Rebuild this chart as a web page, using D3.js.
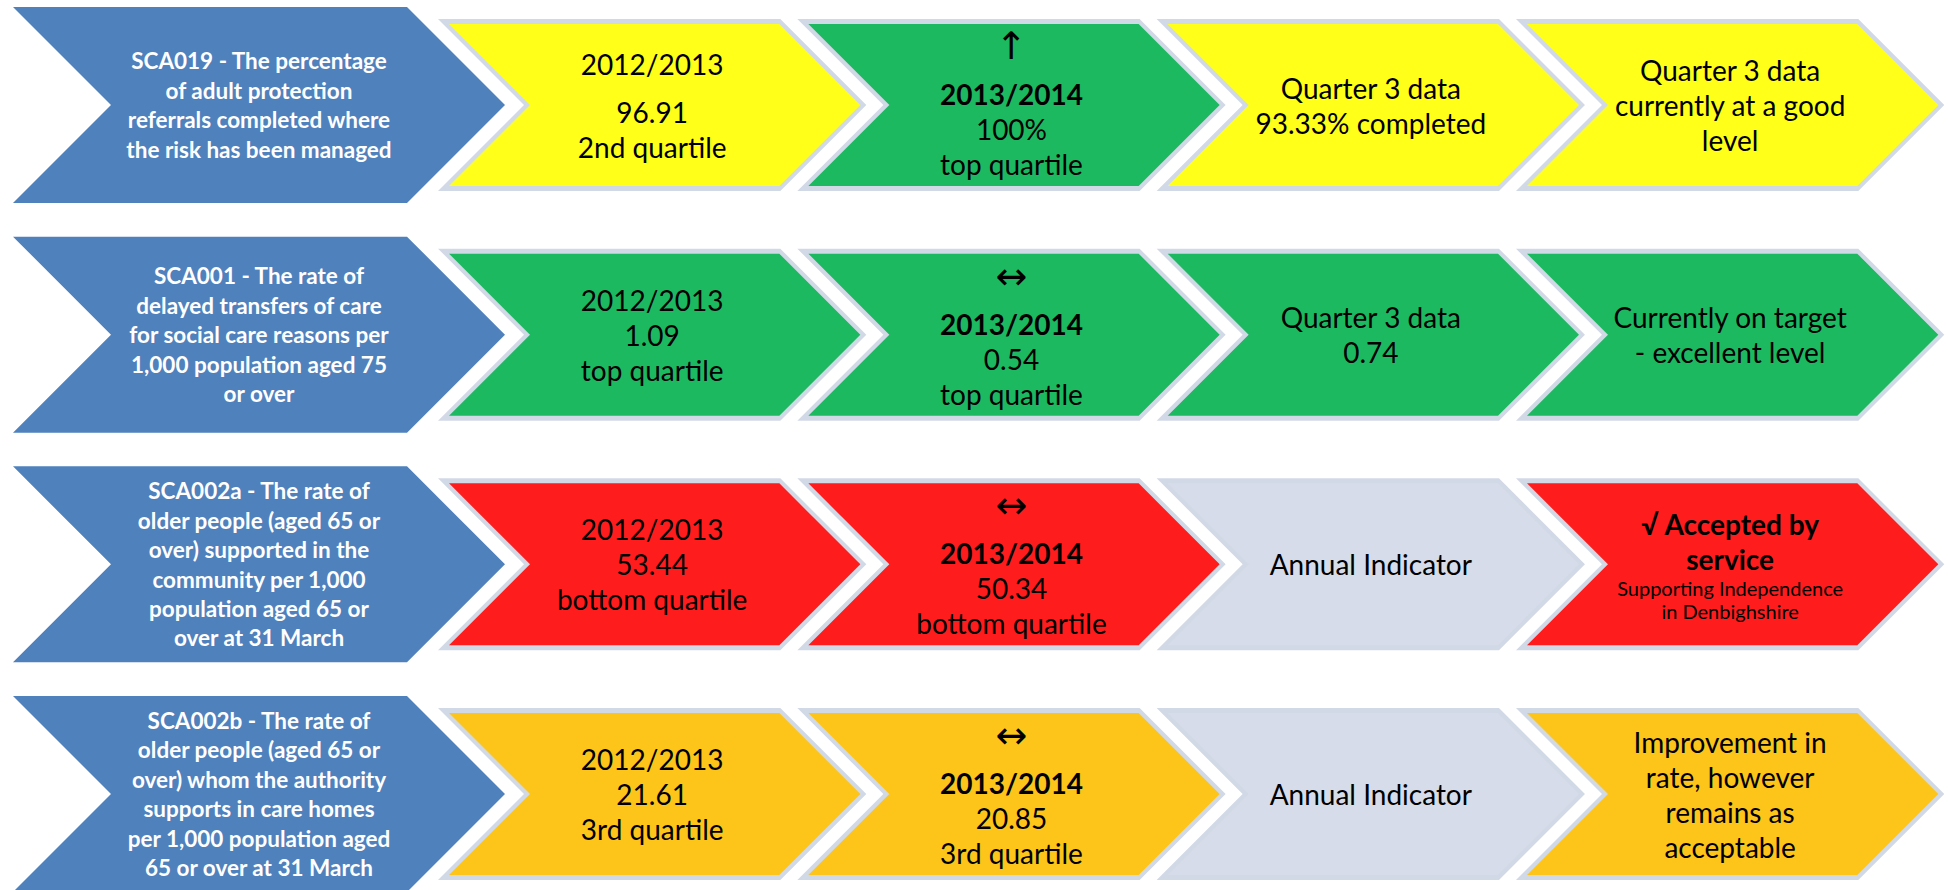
<!DOCTYPE html>
<html>
<head>
<meta charset="utf-8">
<script src="https://cdn.jsdelivr.net/npm/d3@7"></script>
<style>
  body { margin: 0; background: #fff; }
  svg text { font-family: Lato, "Open Sans", sans-serif; }
</style>
</head>
<body>
<div id="vis"></div>
<script>
// indicator rows
var indicators = ["SCA019", "SCA001", "SCA002a", "SCA002b"];

var indicatorLines = [
  ["SCA019 - The percentage", "of adult protection", "referrals completed where", "the risk has been managed"],
  ["SCA001 - The rate of", "delayed transfers of care", "for social care reasons per", "1,000 population aged 75", "or over"],
  ["SCA002a - The rate of", "older people (aged 65 or", "over) supported in the", "community per 1,000", "population aged 65 or", "over at 31 March"],
  ["SCA002b - The rate of", "older people (aged 65 or", "over) whom the authority", "supports in care homes", "per 1,000 population aged", "65 or over at 31 March"]
];

// 2012/2013 column ("" = empty paragraph)
var prevLines = [
  ["2012/2013", "", "96.91", "2nd quartile"],
  ["2012/2013", "1.09", "top quartile"],
  ["2012/2013", "53.44", "bottom quartile"],
  ["2012/2013", "21.61", "3rd quartile"]
];
var prevStatus = ["yellow", "green", "red", "amber"];

// 2013/2014 column
var currYear = "2013/2014";
var currTrend = ["\u2191", "\u2194", "\u2194", "\u2194"];
var currValue = ["100%", "0.54", "50.34", "20.85"];
var currQuartile = ["top quartile", "top quartile", "bottom quartile", "3rd quartile"];
var currStatus = ["green", "green", "red", "amber"];

// quarter 3 column
var q3Lines = [
  ["Quarter 3 data", "93.33% completed"],
  ["Quarter 3 data", "0.74"],
  ["Annual Indicator"],
  ["Annual Indicator"]
];
var q3Status = ["yellow", "green", "none", "none"];

// comment column
var commentLines = [
  ["Quarter 3 data", "currently at a good", "level"],
  ["Currently on target", "- excellent level"],
  ["\u221A Accepted by", "service"],
  ["Improvement in", "rate, however", "remains as", "acceptable"]
];
var commentAccepted = [false, false, true, false];
var commentNote = [[], [], ["Supporting Independence", "in Denbighshire"], []];
var commentStatus = ["yellow", "green", "red", "amber"];

var columns = ["prev", "curr", "q3", "comment"];

var width = 1948, height = 890;

var statusColor = d3.scaleOrdinal()
  .domain(["yellow", "green", "red", "amber", "none"])
  .range(["#ffff1a", "#1db961", "#ff1c1c", "#fdc41a", "#d6dce9"]);

var row = d3.scaleBand()
  .domain(indicators)
  .range([7, 892])
  .paddingInner(0.1466);

var col = d3.scaleBand()
  .domain(columns)
  .range([438, 1875.3]);

var svg = d3.select("#vis").append("svg")
  .attr("width", width)
  .attr("height", height);

// chevron outline, point depth = half the height
function chevron(x, y, w, h) {
  var d = h / 2;
  return "M" + x + "," + y +
    "L" + (x + w - d) + "," + y +
    "L" + (x + w) + "," + (y + d) +
    "L" + (x + w - d) + "," + (y + h) +
    "L" + x + "," + (y + h) +
    "L" + (x + d) + "," + (y + d) + "Z";
}

var lineH = { normal: 35, bold: 35, arrow: 35, small: 23, spacer: 13 };

function drawLines(g, cx, cy, lines) {
  var total = d3.sum(lines, function(l){ return lineH[l.kind]; });
  var y = cy - total / 2;
  lines.forEach(function(l){
    var h = lineH[l.kind];
    if (l.kind != "spacer") {
      var t = g.append("text")
        .attr("x", cx)
        .attr("y", y + h / 2)
        .attr("text-anchor", "middle")
        .attr("dominant-baseline", "central")
        .attr("fill", "#000")
        .text(l.text);
      if (l.kind == "bold") t.attr("font-weight", "bold").attr("font-size", 28);
      else if (l.kind == "small") t.attr("font-size", 20);
      else if (l.kind == "arrow") t.attr("font-size", 38).style("font-family", "'DejaVu Sans'");
      else t.attr("font-size", 28);
    }
    y += h;
  });
}

function plain(arr) {
  return arr.map(function(s){ return { text: s, kind: s === "" ? "spacer" : "normal" }; });
}

indicators.forEach(function(id, i) {
  var top = row(id), bh = row.bandwidth();
  var g = svg.append("g").attr("class", "row");

  // indicator chevron
  g.append("path")
    .attr("d", chevron(13, top, 492, bh))
    .attr("fill", "#4f81bd");
  var nl = indicatorLines[i].length, lh = 29.4;
  indicatorLines[i].forEach(function(s, j) {
    g.append("text")
      .attr("x", 13 + 492 / 2)
      .attr("y", top + bh / 2 + (j - (nl - 1) / 2) * lh)
      .attr("text-anchor", "middle")
      .attr("dominant-baseline", "central")
      .attr("fill", "#fff")
      .attr("font-weight", "bold")
      .attr("font-size", 22.5)
      .text(s);
  });

  var cells = [
    { key: "prev", status: prevStatus[i], lines: plain(prevLines[i]) },
    { key: "curr", status: currStatus[i], lines: [
        { text: currTrend[i], kind: "arrow" },
        { text: "", kind: "spacer" },
        { text: currYear, kind: "bold" },
        { text: currValue[i], kind: "normal" },
        { text: currQuartile[i], kind: "normal" }
      ] },
    { key: "q3", status: q3Status[i], lines: plain(q3Lines[i]) },
    { key: "comment", status: commentStatus[i], lines:
        commentLines[i].map(function(s){ return { text: s, kind: commentAccepted[i] ? "bold" : "normal" }; })
          .concat(commentNote[i].map(function(s){ return { text: s, kind: "small" }; })) }
  ];

  var cw = col.bandwidth() + 69, ch = 172, cy = top + 12;
  cells.forEach(function(c) {
    var x = col(c.key);
    g.append("path")
      .attr("d", chevron(x, cy, cw, ch))
      .attr("fill", "#d2d9e6");
    g.append("path")
      .attr("d", chevron(x + 11, cy + 5, cw - 17, ch - 10))
      .attr("fill", statusColor(c.status));
    drawLines(g, x + cw / 2, cy + ch / 2, c.lines);
  });
});
</script>
</body>
</html>
